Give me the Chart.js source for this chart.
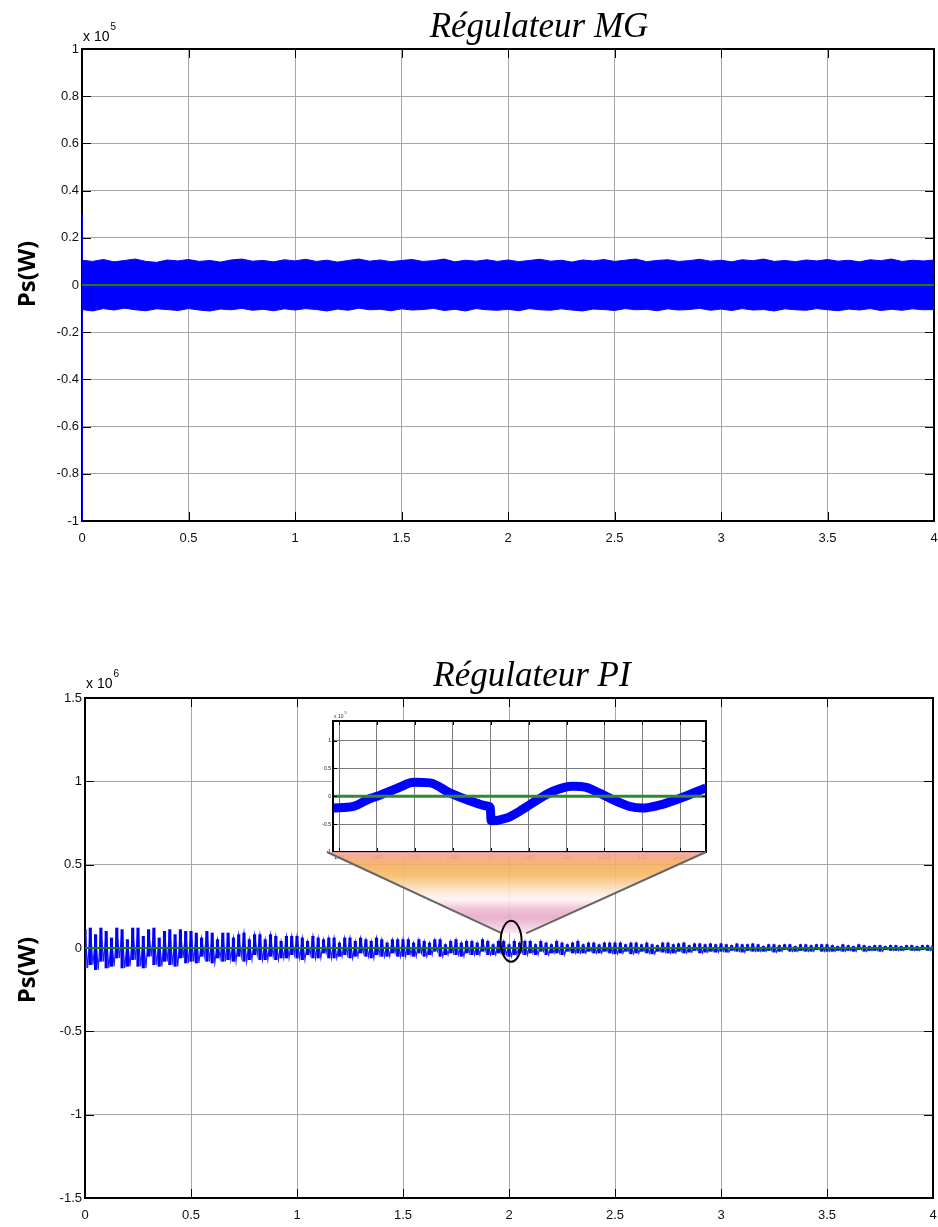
<!DOCTYPE html>
<html>
<head>
<meta charset="utf-8">
<title>Ps(W) - Régulateur MG / Régulateur PI</title>
<script src="https://cdn.jsdelivr.net/npm/chart.js@4.4.1/dist/chart.umd.min.js"></script>
<style>
  body { margin: 0; background: #fff; }
  #page { position: relative; width: 938px; height: 1227px; overflow: hidden; }
  #page canvas { position: absolute; }
</style>
</head>
<body>
<div id="page">
  <canvas id="mgChart" width="938" height="600" style="left:0;top:0"></canvas>
  <canvas id="piChart" width="938" height="627" style="left:0;top:600px"></canvas>
  <canvas id="zoomChart" width="420" height="175" style="left:300px;top:700px"></canvas>
  <canvas id="lens" width="938" height="1227" style="left:0;top:0;pointer-events:none"></canvas>
</div>
<script>
// tick values
const timeTicks = [0, 0.5, 1, 1.5, 2, 2.5, 3, 3.5, 4];
const mgTicks = [-1, -0.8, -0.6, -0.4, -0.2, 0, 0.2, 0.4, 0.6, 0.8, 1];
const piTicks = [-1.5, -1, -0.5, 0, 0.5, 1, 1.5];
const zoomTimeTicks = [1.98, 1.985, 1.99, 1.995, 2, 2.005, 2.01, 2.015, 2.02, 2.025];
const zoomTicks = [-1, -0.5, 0, 0.5, 1];

// Ps reference (W)
const refTime = [0, 4];
const refPs = [0, 0];

// sliding mode controller: ripple envelope every 50 ms (x 1e5 W)
const mgStep = 0.05;
const mgUpper = [
  0.105, 0.100, 0.108, 0.098, 0.104, 0.110, 0.100, 0.096, 0.106, 0.102,
  0.108, 0.100, 0.104, 0.097, 0.106, 0.110, 0.101, 0.104, 0.098, 0.107,
  0.102, 0.109, 0.100, 0.105, 0.097, 0.104, 0.110, 0.101, 0.106, 0.099,
  0.104, 0.108, 0.100, 0.103, 0.110, 0.098, 0.105, 0.101, 0.107, 0.100,
  0.106, 0.099, 0.104, 0.109, 0.101, 0.105, 0.097, 0.106, 0.102, 0.108,
  0.100, 0.105, 0.110, 0.099, 0.104, 0.107, 0.100, 0.103, 0.109, 0.101,
  0.105, 0.098, 0.107, 0.103, 0.110, 0.100, 0.104, 0.099, 0.106, 0.102,
  0.108, 0.101, 0.105, 0.098, 0.107, 0.103, 0.110, 0.100, 0.105, 0.102,
  0.106
];
const mgLower = [
  -0.104, -0.110, -0.100, -0.106, -0.098, -0.105, -0.109, -0.101, -0.104, -0.108,
  -0.100, -0.106, -0.110, -0.102, -0.105, -0.099, -0.107, -0.103, -0.109, -0.101,
  -0.106, -0.100, -0.104, -0.110, -0.102, -0.107, -0.098, -0.105, -0.103, -0.109,
  -0.101, -0.106, -0.104, -0.099, -0.108, -0.103, -0.110, -0.100, -0.105, -0.107,
  -0.103, -0.109, -0.100, -0.105, -0.107, -0.101, -0.106, -0.110, -0.102, -0.104,
  -0.108, -0.100, -0.105, -0.103, -0.109, -0.101, -0.106, -0.104, -0.099, -0.107,
  -0.102, -0.108, -0.100, -0.106, -0.104, -0.110, -0.101, -0.105, -0.107, -0.100,
  -0.105, -0.109, -0.102, -0.106, -0.100, -0.108, -0.103, -0.107, -0.101, -0.105,
  -0.104
];
// start-up spike at t = 0 (x 1e5 W)
const mgSpike = [0.3, -1];

// PI controller: ripple maxima every 25 ms, minima half a step later (x 1e6 W)
const piStep = 0.025;
const piUpper = [
  0.11, 0.12, 0.08, 0.12, 0.10, 0.06, 0.12, 0.11, 0.05, 0.12, 0.12, 0.07, 0.11, 0.12, 0.06, 0.10, 0.11, 0.08, 0.11, 0.10,
  0.10, 0.09, 0.06, 0.10, 0.09, 0.05, 0.09, 0.09, 0.06, 0.08, 0.09, 0.05, 0.08, 0.08, 0.05, 0.08, 0.07, 0.04, 0.07, 0.07,
  0.07, 0.06, 0.04, 0.07, 0.06, 0.05, 0.06, 0.06, 0.03, 0.06, 0.06, 0.04, 0.06, 0.05, 0.04, 0.06, 0.05, 0.03, 0.05, 0.05,
  0.05, 0.05, 0.03, 0.05, 0.04, 0.03, 0.05, 0.05, 0.02, 0.04, 0.05, 0.03, 0.04, 0.04, 0.03, 0.05, 0.04, 0.02, 0.04, 0.04,
  0.02, 0.04, 0.03, 0.04, 0.04, 0.02, 0.04, 0.03, 0.02, 0.04, 0.03, 0.02, 0.03, 0.04, 0.02, 0.03, 0.03, 0.02, 0.03, 0.03,
  0.03, 0.03, 0.02, 0.03, 0.03, 0.02, 0.03, 0.02, 0.015, 0.03, 0.03, 0.02, 0.025, 0.03, 0.015, 0.025, 0.025, 0.02, 0.025, 0.02,
  0.025, 0.02, 0.015, 0.025, 0.02, 0.02, 0.025, 0.02, 0.01, 0.02, 0.02, 0.015, 0.02, 0.02, 0.01, 0.02, 0.02, 0.015, 0.02, 0.02,
  0.02, 0.015, 0.01, 0.02, 0.015, 0.01, 0.02, 0.015, 0.01, 0.015, 0.015, 0.01, 0.015, 0.015, 0.01, 0.015, 0.015, 0.01, 0.015, 0.015,
  0.015
];
const piLower = [
  -0.12, -0.10, -0.13, -0.08, -0.12, -0.11, -0.06, -0.12, -0.11, -0.07, -0.11, -0.12, -0.05, -0.10, -0.11, -0.08, -0.10, -0.11, -0.06, -0.09,
  -0.08, -0.09, -0.05, -0.08, -0.09, -0.06, -0.08, -0.07, -0.08, -0.05, -0.08, -0.07, -0.04, -0.07, -0.07, -0.05, -0.07, -0.06, -0.06, -0.04,
  -0.06, -0.07, -0.04, -0.06, -0.06, -0.03, -0.06, -0.06, -0.05, -0.04, -0.06, -0.05, -0.03, -0.05, -0.06, -0.04, -0.05, -0.05, -0.03, -0.05,
  -0.05, -0.04, -0.05, -0.03, -0.05, -0.04, -0.02, -0.05, -0.04, -0.03, -0.04, -0.05, -0.03, -0.04, -0.04, -0.02, -0.04, -0.04, -0.03, -0.04,
  -0.05, -0.04, -0.03, -0.04, -0.03, -0.04, -0.02, -0.04, -0.03, -0.03, -0.04, -0.02, -0.03, -0.03, -0.03, -0.02, -0.03, -0.03, -0.02, -0.03,
  -0.035, -0.03, -0.02, -0.035, -0.03, -0.02, -0.03, -0.035, -0.02, -0.025, -0.03, -0.03, -0.02, -0.03, -0.025, -0.015, -0.03, -0.025, -0.02, -0.025,
  -0.02, -0.025, -0.015, -0.02, -0.025, -0.015, -0.02, -0.02, -0.02, -0.015, -0.025, -0.02, -0.01, -0.02, -0.02, -0.015, -0.02, -0.02, -0.01, -0.02,
  -0.02, -0.02, -0.015, -0.02, -0.015, -0.02, -0.01, -0.02, -0.015, -0.015, -0.02, -0.01, -0.015, -0.015, -0.015, -0.01, -0.015, -0.015, -0.01, -0.015,
  -0.015
];

// PI zoom around t = 2 s (x 1e5 W)
const zoomRange = [1.9792, 2.0284];
const zoomTime = [
  1.9792, 1.9819, 1.9841, 1.9850, 1.9876, 1.9899, 1.9920, 1.9946, 1.9972, 1.99965, 1.99995,
  2.00005, 2.0021, 2.0038, 2.0060, 2.0082, 2.0108, 2.0126, 2.0143, 2.0161, 2.0183, 2.0200,
  2.0222, 2.0249, 2.0284
];
const zoomPs = [
  -0.21, -0.18, -0.04, 0.00, 0.14, 0.25, 0.24, 0.06, -0.08, -0.18, -0.21,
  -0.44, -0.39, -0.27, -0.08, 0.09, 0.18, 0.16, 0.06, -0.06, -0.18, -0.21,
  -0.16, -0.04, 0.15
];

const BLUE = '#0000ff';
const GREEN = '#118211';
const tickFont = { family: "'Liberation Sans Narrow', 'Arial Narrow', 'Liberation Sans', Arial, sans-serif", size: 13 };

const pts = (step, ys) => ys.map((y, i) => ({ x: +(i * step).toFixed(4), y: y }));
const pairs = (xs, ys) => xs.map((x, i) => ({ x: x, y: ys[i] }));
// PI ripple: one stroke per sample, plus the max/min path between them
const strokes = piUpper.map((hi, i) => ({ x: +(i * piStep).toFixed(4), y: [piLower[i], hi] }));
const ripple = piUpper.flatMap((hi, i) => {
  const t = i * piStep;
  const out = [{ x: +t.toFixed(4), y: hi }];
  if (i < piUpper.length - 1) out.push({ x: +(t + piStep / 2).toFixed(4), y: piLower[i] });
  return out;
});

// fixed-size axis; label overhang must not shrink the plot area
function axis(ticks, min, max, size, pad, font, grid) {
  return {
    type: 'linear', min: min, max: max, offset: false,
    grid: { color: grid || '#a6a6a6', lineWidth: 1, drawTicks: false, offset: false },
    border: { display: false },
    ticks: {
      font: font || tickFont, color: '#111', padding: pad, autoSkip: false, maxRotation: 0,
      callback: v => String(v)
    },
    afterBuildTicks: s => { s.ticks = ticks.map(v => ({ value: v })); },
    afterFit: s => {
      if (s.isHorizontal()) s.height = size; else s.width = size;
      s.paddingLeft = s.paddingRight = s.paddingTop = s.paddingBottom = 0;
    }
  };
}

// box around the plot and the inward ticks on all four sides
function drawFrame(chart, o) {
  const { ctx, chartArea: a, scales: { x, y } } = chart;
  ctx.save();
  ctx.strokeStyle = '#000';
  ctx.lineWidth = 1;
  ctx.beginPath();
  x.ticks.forEach(t => {
    const px = Math.round(x.getPixelForValue(t.value)) + 0.5;
    ctx.moveTo(px, a.top); ctx.lineTo(px, a.top + o.tick);
    ctx.moveTo(px, a.bottom); ctx.lineTo(px, a.bottom - o.tick);
  });
  y.ticks.forEach(t => {
    const py = Math.round(y.getPixelForValue(t.value)) + 0.5;
    ctx.moveTo(a.left, py); ctx.lineTo(a.left + o.tick, py);
    ctx.moveTo(a.right, py); ctx.lineTo(a.right - o.tick, py);
  });
  ctx.stroke();
  ctx.lineWidth = o.width;
  ctx.strokeRect(a.left, a.top, a.right - a.left, a.bottom - a.top);
  ctx.restore();
}

const frame = {
  id: 'frame',
  beforeDatasetsDraw(chart, args, o) { if (!o.onTop) drawFrame(chart, o); },
  afterDatasetsDraw(chart, args, o) { if (o.onTop) drawFrame(chart, o); }
};

// titles, axis label and the x10^n multiplier
const decor = {
  id: 'decor',
  beforeDraw(chart, args, o) {
    if (!o.paper) return;
    const a = chart.chartArea;
    chart.ctx.save();
    chart.ctx.fillStyle = '#fff';
    chart.ctx.fillRect(a.left, a.top, a.right - a.left, a.bottom - a.top);
    chart.ctx.restore();
  },
  afterDraw(chart, args, o) {
    const ctx = chart.ctx, a = chart.chartArea;
    ctx.save();
    ctx.fillStyle = '#000';
    ctx.textBaseline = 'alphabetic';
    if (o.title) {
      ctx.font = "italic 35px 'Liberation Serif', 'Times New Roman', serif";
      ctx.textAlign = 'center';
      ctx.fillText(o.title, o.titleAt[0], o.titleAt[1]);
    }
    if (o.yLabel) {
      ctx.save();
      ctx.translate(o.yLabelAt[0], o.yLabelAt[1]);
      ctx.rotate(-Math.PI / 2);
      ctx.font = "bold 24px 'Open Sans', 'Noto Sans', sans-serif";
      ctx.textAlign = 'center';
      ctx.textBaseline = 'middle';
      ctx.fillText(o.yLabel, 0, 0);
      ctx.restore();
    }
    if (o.exp) {
      const s = o.expSize;
      ctx.textAlign = 'left';
      ctx.fillStyle = o.expColor || '#000';
      ctx.font = s + "px " + tickFont.family;
      const base = 'x 10';
      ctx.fillText(base, a.left + 1, a.top - o.expGap);
      const w = ctx.measureText(base).width;
      ctx.font = Math.round(s * 0.72) + "px " + tickFont.family;
      ctx.fillText(o.exp, a.left + 2 + w, a.top - o.expGap - s * 0.8);
    }
    ctx.restore();
  }
};

const base = {
  responsive: false,
  animation: false,
  devicePixelRatio: 1,
  events: []
};

// Régulateur MG
const mgChart = new Chart(document.getElementById('mgChart'), {
  type: 'line',
  data: {
    datasets: [
      { data: pairs(refTime, refPs), borderColor: GREEN, borderWidth: 2, pointRadius: 0, order: 0 },
      { data: [{ x: 0, y: mgSpike[0] }, { x: 0, y: mgSpike[1] }], borderColor: BLUE, borderWidth: 2, pointRadius: 0, order: 1 },
      { data: pts(mgStep, mgUpper), borderColor: BLUE, backgroundColor: BLUE, borderWidth: 1, pointRadius: 0, fill: '+1', order: 2 },
      { data: pts(mgStep, mgLower), borderColor: BLUE, borderWidth: 1, pointRadius: 0, fill: false, order: 3 }
    ]
  },
  options: Object.assign({}, base, {
    layout: { padding: { top: 49, right: 4, left: 0, bottom: 0 } },
    scales: {
      x: axis(timeTicks, 0, 4, 79, 10),
      y: axis(mgTicks, -1, 1, 82, 3)
    },
    plugins: {
      legend: { display: false }, tooltip: { enabled: false },
      frame: { tick: 9, width: 2, onTop: false },
      decor: { title: 'Régulateur MG', titleAt: [539, 37], yLabel: 'Ps(W)', yLabelAt: [28, 274], exp: '5', expSize: 14, expGap: 8 }
    }
  }),
  plugins: [frame, decor]
});

// Régulateur PI
const piChart = new Chart(document.getElementById('piChart'), {
  type: 'bar',
  data: {
    datasets: [
      { type: 'line', data: pairs(refTime, refPs), borderColor: GREEN, borderWidth: 2, pointRadius: 0, order: 0 },
      { type: 'bar', data: strokes, backgroundColor: BLUE, barThickness: 2.5, order: 1 },
      { type: 'line', data: ripple, borderColor: '#1f1fff', borderWidth: 1.2, pointRadius: 0, order: 2 }
    ]
  },
  options: Object.assign({}, base, {
    layout: { padding: { top: 98, right: 5, left: 0, bottom: 0 } },
    scales: {
      x: axis(timeTicks, 0, 4, 29, 10),
      y: axis(piTicks, -1.5, 1.5, 85, 3)
    },
    plugins: {
      legend: { display: false }, tooltip: { enabled: false },
      frame: { tick: 9, width: 2, onTop: false },
      decor: { title: 'Régulateur PI', titleAt: [532, 86], yLabel: 'Ps(W)', yLabelAt: [28, 370], exp: '6', expSize: 14, expGap: 10 }
    }
  }),
  plugins: [frame, decor]
});

// zoom on the PI response around t = 2 s
const tinyFont = { family: tickFont.family, size: 5 };
const zoomChart = new Chart(document.getElementById('zoomChart'), {
  type: 'line',
  data: {
    datasets: [
      { data: pairs(refTime, refPs), borderColor: '#2f8a2f', borderWidth: 3, pointRadius: 0, order: 0, clip: 0 },
      {
        data: pairs(zoomTime, zoomPs), borderColor: BLUE, borderWidth: 9, pointRadius: 0,
        cubicInterpolationMode: 'monotone', order: 1, clip: 0
      }
    ]
  },
  options: Object.assign({}, base, {
    layout: { padding: { top: 21, right: 14, left: 0, bottom: 0 } },
    scales: {
      x: axis(zoomTimeTicks, zoomRange[0], zoomRange[1], 23, 3, tinyFont, '#7c7c7c'),
      y: axis(zoomTicks, -1, 1.35, 33, 2, tinyFont, '#7c7c7c')
    },
    plugins: {
      legend: { display: false }, tooltip: { enabled: false },
      frame: { tick: 4, width: 2, onTop: true },
      decor: { paper: true, exp: '5', expSize: 5, expGap: 3, expColor: '#333' }
    }
  }),
  plugins: [frame, decor]
});

// magnifier: funnel from the circled region up to the zoom window
function drawLens() {
  const ctx = document.getElementById('lens').getContext('2d');
  const za = zoomChart.chartArea, zx = 300, zy = 700, py = 600;
  const cx = piChart.scales.x.getPixelForValue(2.01);
  const cy = py + piChart.scales.y.getPixelForValue(0.04);
  const top = zy + za.bottom, bottom = cy - 8;
  const tl = zx + za.left - 6, tr = zx + za.right;
  const bl = cx - 9, br = cx + 15;

  const g = ctx.createLinearGradient(0, top, 0, bottom);
  g.addColorStop(0, '#f4a2aa');
  g.addColorStop(0.12, '#f5ac62');
  g.addColorStop(0.28, '#f7b965');
  g.addColorStop(0.48, '#fce4cc');
  g.addColorStop(0.58, '#fdf5f4');
  g.addColorStop(0.7, '#f1bdd6');
  g.addColorStop(0.8, '#e8a8c6');
  g.addColorStop(1, '#f5e6ef');
  ctx.save();
  ctx.globalAlpha = 0.9;
  ctx.fillStyle = g;
  ctx.beginPath();
  ctx.moveTo(tl, top); ctx.lineTo(tr, top); ctx.lineTo(br, bottom); ctx.lineTo(bl, bottom);
  ctx.closePath();
  ctx.fill();
  ctx.globalAlpha = 1;
  ctx.strokeStyle = '#666';
  ctx.lineWidth = 2;
  ctx.beginPath();
  ctx.moveTo(tl, top); ctx.lineTo(bl, bottom);
  ctx.moveTo(tr, top); ctx.lineTo(br, bottom);
  ctx.stroke();
  ctx.strokeStyle = '#000';
  ctx.beginPath();
  ctx.ellipse(cx, cy, 10.5, 20.5, 0, 0, Math.PI * 2);
  ctx.stroke();
  ctx.restore();
}
drawLens();
</script>
</body>
</html>
